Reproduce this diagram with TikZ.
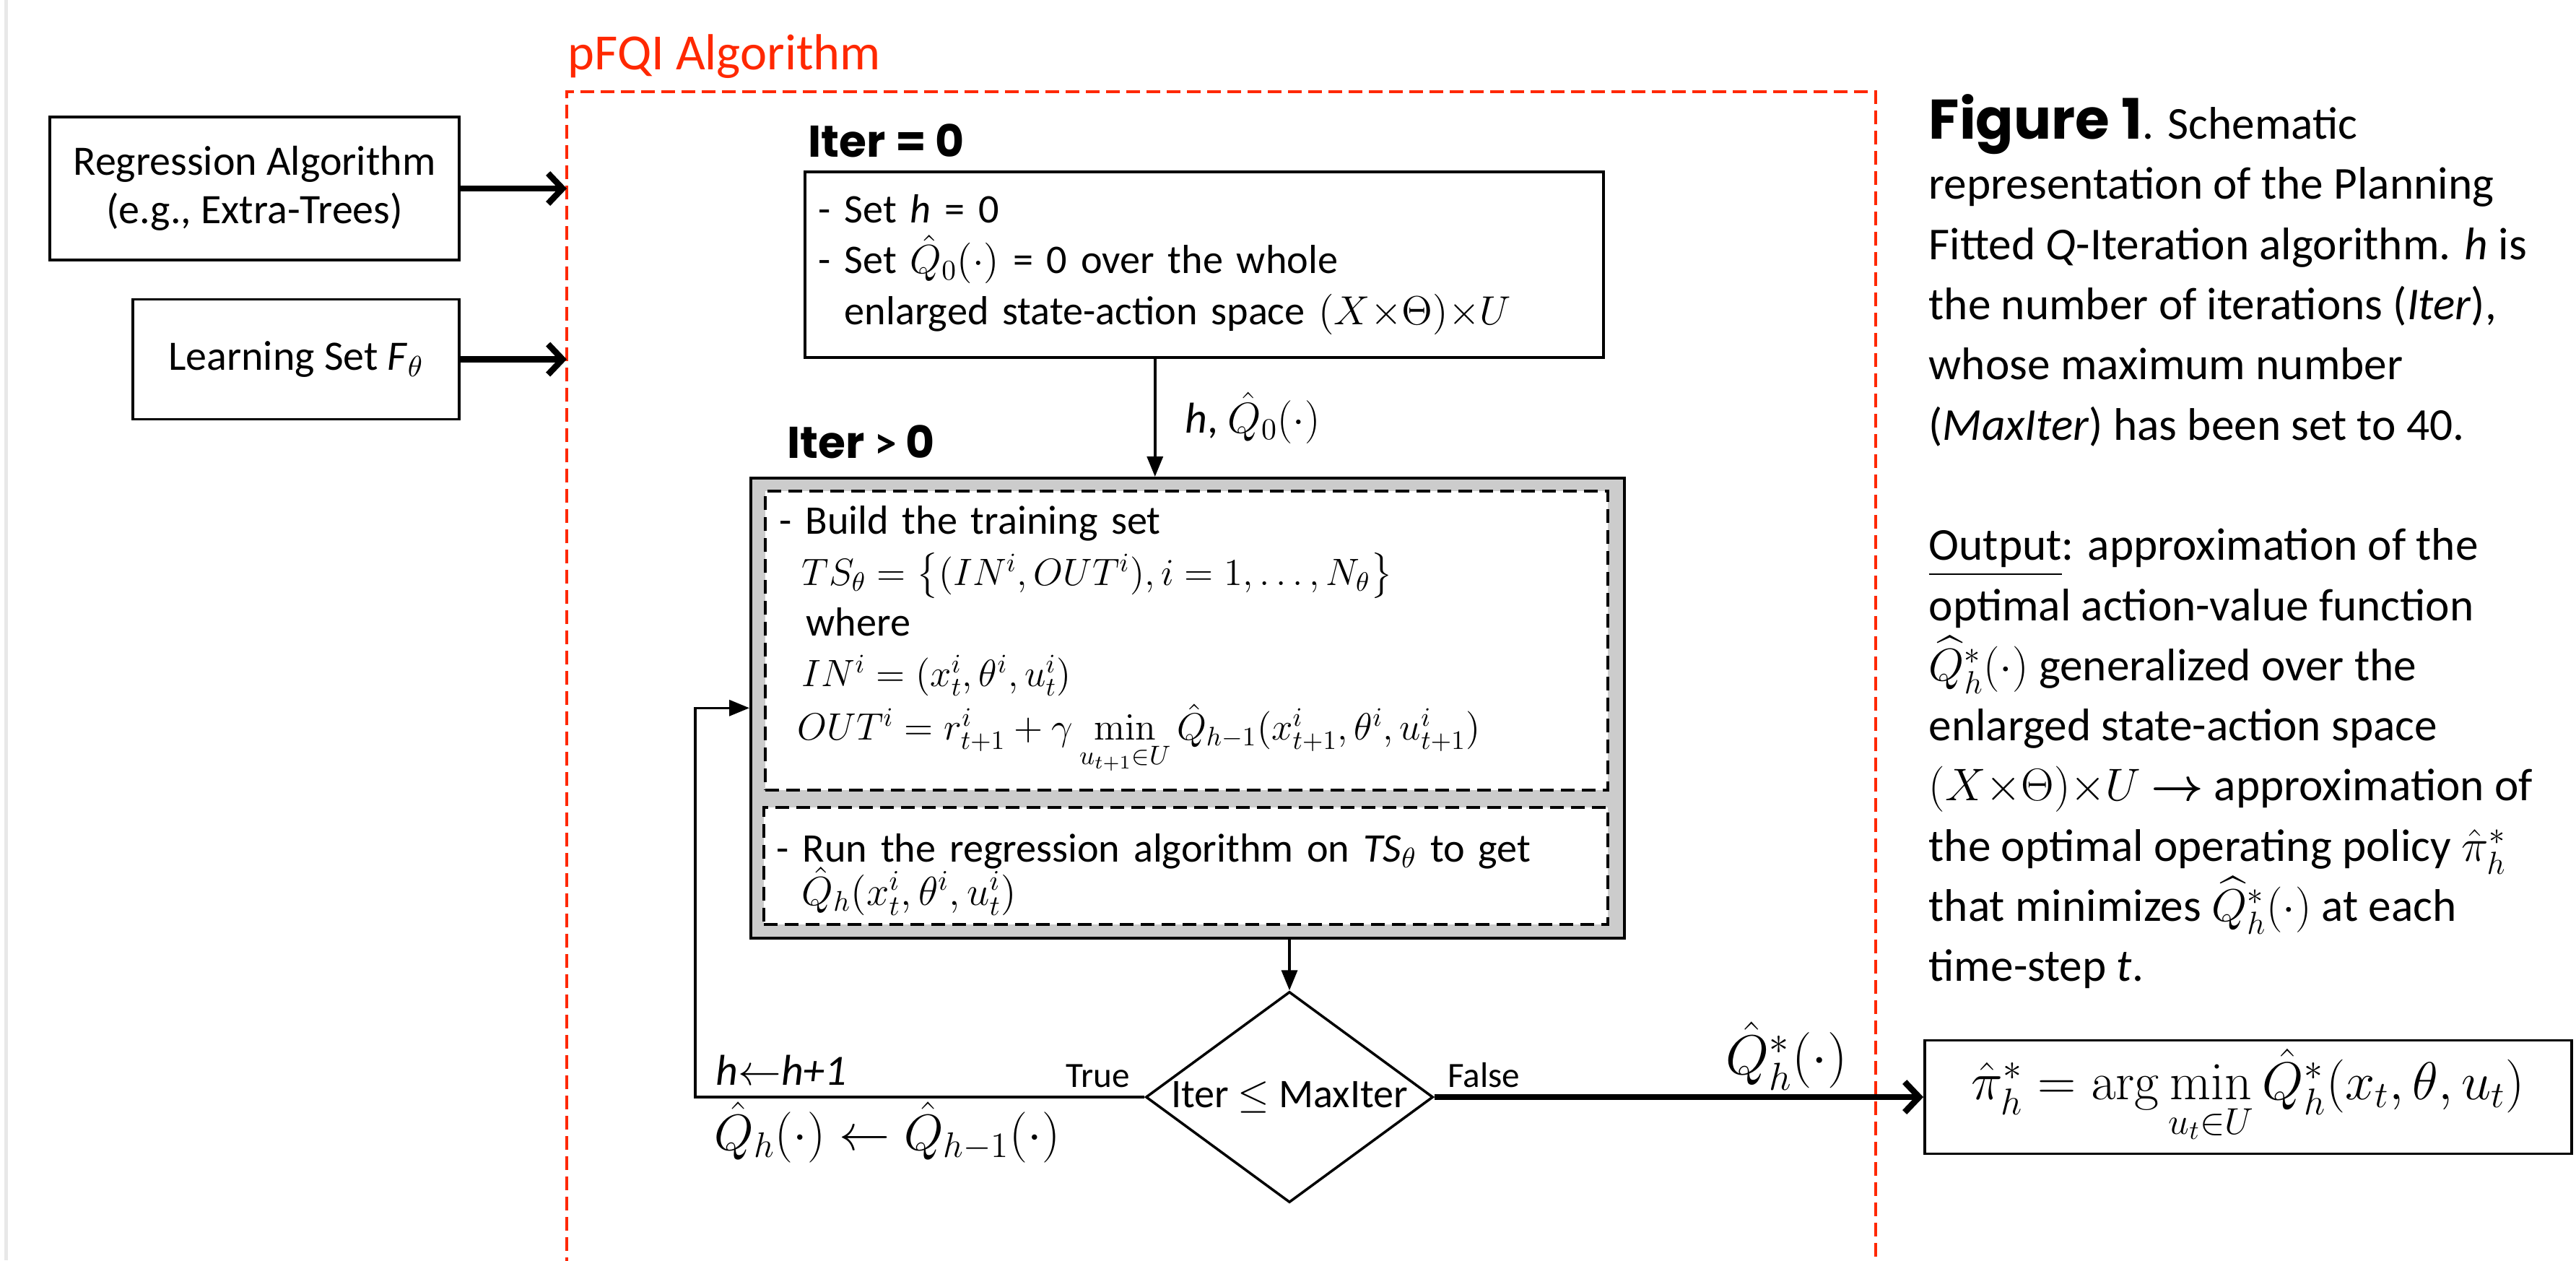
\RequirePackage{fix-cm}
\documentclass[tikz,border=0pt]{standalone}
\usepackage{amsmath,amssymb}
\usepackage[no-math]{fontspec}
\setmainfont{Carlito}
\newfontfamily\heavyfont{Poppins}
\usepackage{xcolor}
\usetikzlibrary{arrows.meta,positioning,shapes.geometric,calc}

\definecolor{pfqired}{RGB}{255,40,0}
\definecolor{shadegray}{RGB}{204,204,204}
\definecolor{edgegray}{RGB}{232,232,232}

\newcommand{\mathsz}{\fontsize{15}{20}\selectfont}

\begin{document}
\begin{tikzpicture}[>=Latex,node distance=1cm,
  inbox/.style={draw,line width=1pt,inner sep=0pt,align=center,font=\fontsize{16.5}{19}\selectfont},
  stepbox/.style={draw,line width=1pt,align=left,inner xsep=0.19cm,inner ysep=0pt},
  dashbox/.style={draw,fill=white,line width=1pt,dash pattern=on 0.19cm off 0.1cm,align=left,inner ysep=0pt},
  heading/.style={inner sep=0pt,font=\heavyfont\bfseries\fontsize{17.5}{20}\selectfont},
  fat/.style={line width=0.085cm,-{Straight Barb[length=0.2cm,width=0.42cm]}},
  flow/.style={line width=1pt,-{Triangle[length=0.28cm,width=0.22cm]}},
  lbl/.style={inner sep=0pt,font=\fontsize{14}{16}\selectfont}]

  \useasboundingbox (0,0) rectangle (35.68,-17.45);
  % page edge
  \draw[edgegray,line width=0.05cm] (0.08,0) -- (0.08,-17.45);

  % pFQI frame
  \coordinate (fnw) at (7.85,-1.27);
  \coordinate (fne) at (25.98,-1.27);
  \draw[pfqired,line width=0.9pt,dash pattern=on 0.19cm off 0.09cm]
    (7.85,-17.6) -- (fnw) -- (fne) -- (25.98,-17.6);
  \node[anchor=base west,inner sep=0pt,text=pfqired,font=\fontsize{20}{24}\selectfont] (title) at (7.86,-0.96)
    {pFQI Algorithm};

  % inputs
  \node[inbox,minimum width=5.67cm,minimum height=1.98cm] (regalg) at (3.525,-2.61)
    {Regression Algorithm\\(e.g., Extra-Trees)};
  \node[inbox,minimum width=4.52cm,minimum height=1.66cm,below left=0.51cm and 0cm of regalg.south east] (learn)
    {Learning Set \textit{F}$_{\theta}$};
  \draw[fat] (regalg.east) -- (regalg.east -| fnw);
  \draw[fat] (learn.east) -- (learn.east -| fnw);

  % Iter = 0
  \node[stepbox,anchor=north west,minimum width=11.06cm,minimum height=2.57cm,text width=10.68cm,
        font=\fontsize{16}{20}\selectfont] (init) at (11.13,-2.36)
    {- Set \textit{h} = 0\\
     - Set $\hat{Q}_0(\cdot)$ = 0 over the whole\\
     \phantom{- }enlarged state-action space $(X{\times}\Theta){\times}U$};
  \node[heading,above right=0.17cm and 0.06cm of init.north west] (iterzero) {Iter = 0};

  % Iter > 0
  \node[draw,fill=shadegray,line width=1pt,anchor=north west,minimum width=12.10cm,minimum height=6.37cm,
        inner sep=0pt] (train) at (10.38,-6.60) {};
  \node[heading,above right=0.24cm and 0.52cm of train.north west] (iterpos) {Iter {\normalfont\bfseries >} 0};
  \node[dashbox,anchor=north west,minimum width=11.67cm,minimum height=4.14cm,text width=11.27cm,
        inner xsep=0.2cm,font=\fontsize{16}{20}\selectfont] (build) at ([shift={(0.20,-0.18)}]train.north west)
    {- Build the training set\\
     \hspace*{0.31cm}{\mathsz$TS_\theta=\bigl\{(IN^i,OUT^i),i=1,\ldots,N_\theta\bigr\}$}\\
     \hspace*{0.37cm}where\\
     \hspace*{0.31cm}{\mathsz$IN^i=(x_t^i,\theta^i,u_t^i)$}\\[1pt]
     \hspace*{0.25cm}{\mathsz$OUT^i=r_{t+1}^i+\gamma\min\limits_{u_{t+1}\in U}\hat{Q}_{h-1}(x_{t+1}^i,\theta^i,u_{t+1}^i)$}};
  \node[dashbox,anchor=north west,minimum width=11.69cm,minimum height=1.62cm,text width=11.33cm,
        inner xsep=0.18cm,font=\fontsize{16}{20}\selectfont] (fit) at ([shift={(0.18,-4.56)}]train.north west)
    {\rule{0pt}{18pt}- Run the regression algorithm on \textit{TS}$_{\theta}$ to get\\[-3pt]
     \hspace*{0.35cm}$\hat{Q}_h(x_t^i,\theta^i,u_t^i)$};

  \draw[flow] ([xshift=-0.68cm]init.south) -- ([xshift=-0.68cm]init.south |- train.north)
    node[midway,right=0.4cm,inner sep=0pt,font=\fontsize{17}{20}\selectfont] (hlabel) {\textit{h}, $\hat{Q}_0(\cdot)$};

  % stopping test
  \node[draw,diamond,aspect=1.36,line width=1pt,inner sep=0pt,minimum width=3.98cm,minimum height=2.92cm,
        font=\fontsize{16}{20}\selectfont] (check) at (17.86,-15.19) {Iter $\leq$ MaxIter};
  \draw[flow] (train.south -| check.north) -- (check.north);

  % loop back
  \coordinate (loopc) at ([xshift=-0.75cm]train.west |- check.west);
  \draw[flow] (check.west) -- (loopc) |- (train.west);
  \node[lbl,above left=0.12cm and 0.2cm of check.west] (yes) {True};
  \node[lbl,above right=0.12cm and 0.18cm of check.east] (no) {False};
  \node[inner sep=0pt,above right=0.16cm and 0.28cm of loopc,font=\itshape\fontsize{17}{20}\selectfont] (incr)
    {h$\leftarrow$h+1};
  \node[inner sep=0pt,below right=0.06cm and 0.26cm of loopc,font=\fontsize{20}{24}\selectfont] (update)
    {$\hat{Q}_h(\cdot)\leftarrow\hat{Q}_{h-1}(\cdot)$};

  % output policy
  \node[draw,line width=1pt,minimum width=8.96cm,minimum height=1.57cm,inner sep=0pt,anchor=west,
        font=\fontsize{21}{24}\selectfont] (policy) at (26.64,-15.19)
    {$\hat{\pi}_h^*=\arg\min\limits_{u_t\in U}\hat{Q}_h^*(x_t,\theta,u_t)$};
  \draw[fat] (check.east) -- (policy.west)
    node[pos=0.72,above=0.05cm,inner sep=0pt,font=\fontsize{22}{24}\selectfont] (qstar) {$\hat{Q}_h^*(\cdot)$};

  % caption
  \node[anchor=north west,inner sep=0pt,align=left,font=\fontsize{18}{23.7}\selectfont] (caption) at (26.71,-1.30)
    {{\heavyfont\bfseries\fontsize{22}{23.7}\selectfont Figure 1}. Schematic\\
     representation of the Planning\\
     Fitted \textit{Q}-Iteration algorithm. \textit{h} is\\
     the number of iterations (\textit{Iter}),\\
     whose maximum number\\
     (\textit{MaxIter}) has been set to 40.\\[23.7pt]
     \underline{Output}: approximation of the\\
     optimal action-value function\\
     $\widehat{Q}_h^*(\cdot)$ generalized over the\\
     enlarged state-action space\\
     $(X{\times}\Theta){\times}U$ $\boldsymbol{\rightarrow}$ approximation of\\
     the optimal operating policy $\hat{\pi}_h^*$\\
     that minimizes $\widehat{Q}_h^*(\cdot)$ at each\\
     time-step \textit{t}.};
\end{tikzpicture}
\end{document}
